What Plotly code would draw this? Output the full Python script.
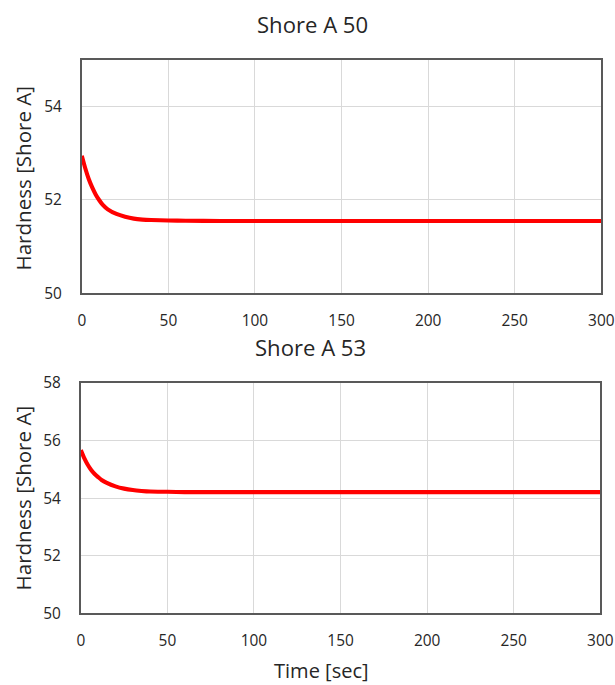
import plotly.graph_objects as go

# Time axis samples [sec]
time_s = [0, 2, 4, 6, 8, 10, 12, 15, 20, 25, 30, 35, 40, 50, 60, 80, 100, 150, 200, 250, 300]

# Hardness readings for the two materials [Shore A]
hardness_a50 = [52.95, 52.68, 52.45, 52.27, 52.12, 52.00, 51.90, 51.80, 51.70, 51.64, 51.60,
                51.58, 51.57, 51.56, 51.555, 51.55, 51.55, 51.55, 51.55, 51.55, 51.55]
hardness_a53 = [55.67, 55.39, 55.16, 54.98, 54.84, 54.73, 54.63, 54.53, 54.41, 54.33, 54.28,
                54.25, 54.23, 54.22, 54.21, 54.21, 54.21, 54.21, 54.21, 54.21, 54.21]

x_ticks = [0, 50, 100, 150, 200, 250, 300]
titles = ["Shore A 50", "Shore A 53"]

# canvas size and the on-screen placement factors of the page
W, H = 630, 697
S = 0.973
OX, OY = 3.2, 8.8
FONT = "Open Sans"
TXT = "#262626"


def fx(p):
    # screen x -> paper fraction
    return ((p - OX) / S) / W


def fy(p):
    # screen y -> paper fraction (from bottom)
    return 1 - ((p - OY) / S) / H


def fs(size):
    return round(size / S, 2)


line_style = dict(color="#ff0000", width=fs(4), shape="spline", smoothing=0.6)

fig = go.Figure()
fig.add_trace(go.Scatter(x=time_s, y=hardness_a50, mode="lines", line=line_style,
                         xaxis="x", yaxis="y", showlegend=False))
fig.add_trace(go.Scatter(x=time_s, y=hardness_a53, mode="lines", line=line_style,
                         xaxis="x2", yaxis="y2", showlegend=False))

axis_common = dict(showline=True, linecolor="#595959", linewidth=fs(1.5), mirror=True,
                   showgrid=True, gridcolor="#d9d9d9", gridwidth=1, zeroline=False,
                   ticks="", tickfont=dict(family=FONT, size=fs(15), color=TXT))

fig.update_layout(
    width=W, height=H,
    margin=dict(l=0, r=0, t=0, b=0),
    paper_bgcolor="white", plot_bgcolor="white",
    xaxis=dict(domain=[fx(81), fx(600.5)], range=[0, 300], tickvals=x_ticks, anchor="y",
               ticklabelstandoff=12, **axis_common),
    yaxis=dict(domain=[fy(292), fy(58)], range=[50, 55], dtick=2, tick0=50, anchor="x",
               ticklabelstandoff=15, **axis_common),
    xaxis2=dict(domain=[fx(80), fx(599.5)], range=[0, 300], tickvals=x_ticks, anchor="y2",
                ticklabelstandoff=12, **axis_common),
    yaxis2=dict(domain=[fy(613), fy(382)], range=[50, 58], dtick=2, tick0=50, anchor="x2",
                ticklabelstandoff=15, **axis_common),
)

annotations = [
    dict(text=titles[0], x=fx(312), y=fy(22), font=dict(size=fs(21.5), family=FONT, color=TXT)),
    dict(text=titles[1], x=fx(310), y=fy(346), font=dict(size=fs(21.5), family=FONT, color=TXT)),
    dict(text="Time [sec]", x=fx(321), y=fy(670), font=dict(size=fs(19.5), family=FONT, color=TXT)),
    dict(text="Hardness [Shore A]", x=fx(22), y=fy(176), textangle=-90,
         font=dict(size=fs(20), family=FONT, color=TXT)),
    dict(text="Hardness [Shore A]", x=fx(22), y=fy(497), textangle=-90,
         font=dict(size=fs(20), family=FONT, color=TXT)),
]
for a in annotations:
    a.update(xref="paper", yref="paper", showarrow=False, xanchor="center", yanchor="middle")
fig.update_layout(annotations=annotations)

fig.write_html("out.html")
